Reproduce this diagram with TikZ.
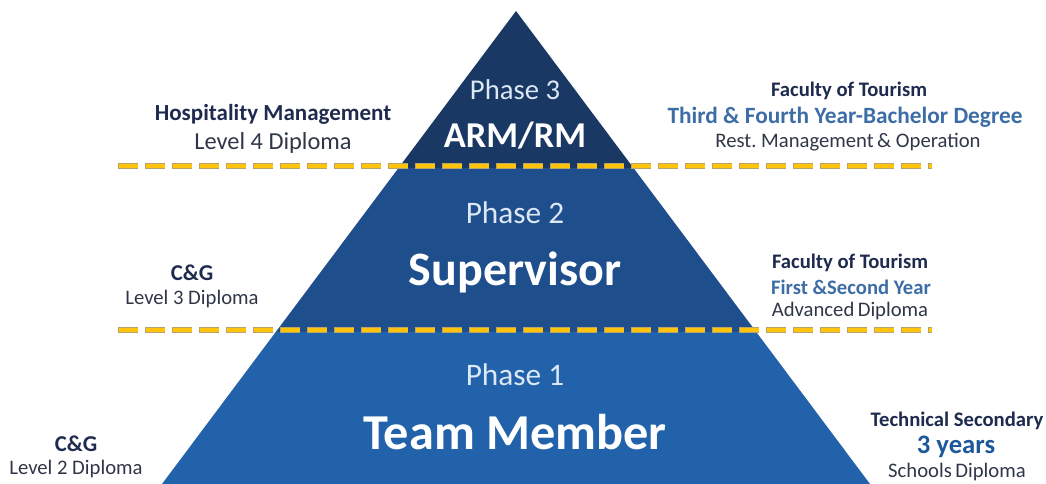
\documentclass[tikz,border=0pt]{standalone}
\usepackage{fontspec}
\setmainfont{Carlito}
\usetikzlibrary{calc}

\definecolor{bandtop}{HTML}{1A3864}
\definecolor{bandmid}{HTML}{1F4E8C}
\definecolor{bandlow}{HTML}{2162AB}
\definecolor{navytext}{HTML}{1F2A4F}
\definecolor{greytext}{HTML}{2E3648}
\definecolor{bluetext}{HTML}{3D6DA6}
\definecolor{phasetext}{HTML}{DCE8F6}
\definecolor{dashfill}{HTML}{FFC40A}
\definecolor{dashedge}{HTML}{B9A468}

\begin{document}
\begin{tikzpicture}[x=0.75pt, y=-0.75pt, inner sep=0pt]

        % Styles
        \tikzset{phase/.style={text=phasetext, font=\fontsize{23.5}{28}\selectfont}}
        \tikzset{role/.style={text=white, font=\bfseries\fontsize{37.7}{42}\selectfont}}
        \tikzset{title/.style={text=navytext, font=\bfseries\fontsize{15.5}{18}\selectfont}}
        \tikzset{sub/.style={text=greytext, font=\fontsize{15.5}{18}\selectfont}}
        \tikzset{hilite/.style={text=bluetext, font=\bfseries\fontsize{17.5}{20}\selectfont}}
        \tikzset{dashouter/.style={line width=3.9pt, dashedge, dash pattern=on 15pt off 5.25pt}}
        \tikzset{dashinner/.style={line width=2.9pt, dashfill, dash pattern=on 14.25pt off 6pt, dash phase=19.875pt}}

        \useasboundingbox (0,0) rectangle (1046,484);

        % Pyramid
        \coordinate (apex) at (516,11);
        \coordinate (bl) at (162,484);
        \coordinate (br) at (870,484);
        \coordinate (l1) at ($(apex)!0.3319!(bl)$);
        \coordinate (r1) at ($(apex)!0.3319!(br)$);
        \coordinate (l2) at ($(apex)!0.6786!(bl)$);
        \coordinate (r2) at ($(apex)!0.6786!(br)$);
        \fill[bandtop] (apex) -- (l1) -- (r1) -- cycle;
        \fill[bandmid] (l1) -- (l2) -- (r2) -- (r1) -- cycle;
        \fill[bandlow] (l2) -- (bl) -- (br) -- (r2) -- cycle;

        % Dashed lines
        \coordinate (d1l) at (118,166);
        \coordinate (d1r) at (932,166);
        \coordinate (d2l) at (118,330);
        \coordinate (d2r) at (932,330);
        \draw[dashouter] (d1l) -- (d1r);
        \draw[dashinner] (d1l) -- (d1r);
        \draw[dashouter] (d2l) -- (d2r);
        \draw[dashinner] (d2l) -- (d2r);

        % Phases
        \node[phase, font=\fontsize{21.5}{26}\selectfont] (ph3) at (515,90) {Phase 3};
        \node[role, font=\bfseries\fontsize{27.3}{32}\selectfont] (arm) at (515,136) {ARM/RM};
        \node[phase] (ph2) at (515,213) {Phase 2};
        \node[role, font=\bfseries\fontsize{36}{40}\selectfont] (sup) at (515,272) {Supervisor};
        \node[phase] (ph1) at (515,375) {Phase 1};
        \node[role] (team) at (515,432) {Team Member};

        % Left labels
        \node[title, font=\bfseries\fontsize{17.25}{20}\selectfont] (hosp) at (273,114) {Hospitality Management};
        \node[sub, font=\fontsize{18.3}{22}\selectfont] (lvl4) at (273,143) {Level 4 Diploma};
        \node[title, font=\bfseries\fontsize{17}{20}\selectfont] (cg3) at (192,273) {C\&G};
        \node[sub] (lvl3) at (192,299) {Level 3 Diploma};
        \node[title, font=\bfseries\fontsize{17}{20}\selectfont] (cg2) at (76,444) {C\&G};
        \node[sub] (lvl2) at (76,469) {Level 2 Diploma};

        % Right labels
        \node[title] (fac3) at (849,91) {Faculty of Tourism};
        \node[hilite] (bach) at (845,117) {Third \& Fourth Year-Bachelor Degree};
        \node[sub] (rest) at (848,142) {Rest.\ Management\,\& Operation};
        \node[title] (fac2) at (850,263) {Faculty of Tourism};
        \node[hilite, font=\bfseries\fontsize{15.5}{18}\selectfont] (first) at (851,287) {First \&Second Year};
        \node[sub] (adv) at (850,311) {Advanced\,Diploma};
        \node[title] (tech) at (957,421) {Technical Secondary};
        \node[hilite, text=bandlow!90!black, font=\bfseries\fontsize{20}{24}\selectfont] (yrs) at (956,447) {3 years};
        \node[sub] (school) at (957,472) {Schools\,Diploma};

\end{tikzpicture}
\end{document}
